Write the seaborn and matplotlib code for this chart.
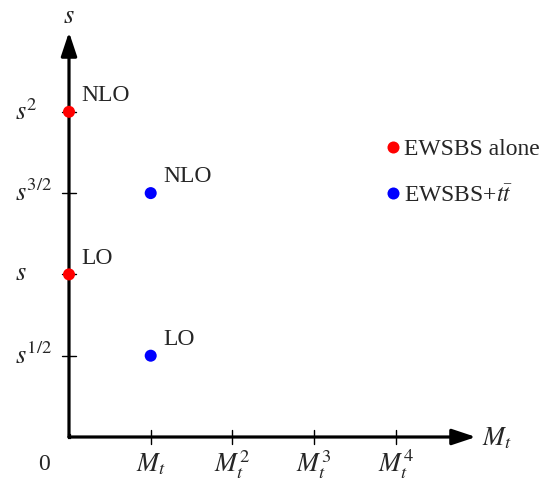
import matplotlib
matplotlib.use("Agg")
import matplotlib.pyplot as plt
import seaborn as sns
import pandas as pd

# Data (axes in units of powers: x = power of M_t, y = power of s^{1/2})
x_ticks = [1, 2, 3, 4]
x_ticklabels = [r"$M_t$", r"$M_t^2$", r"$M_t^3$", r"$M_t^4$"]
y_ticks = [1, 2, 3, 4]
y_ticklabels = [r"$s^{1/2}$", r"$s$", r"$s^{3/2}$", r"$s^2$"]

series = ["EWSBS alone", "EWSBS alone", r"EWSBS+$t\bar{t}$", r"EWSBS+$t\bar{t}$"]
xs = [0, 0, 1, 1]
ys = [2, 4, 1, 3]
orders = ["LO", "NLO", "LO", "NLO"]

df = pd.DataFrame({"x": xs, "y": ys, "series": series, "order": orders})

sns.set_theme(style="white")
plt.rcParams["font.family"] = ["Liberation Serif", "DejaVu Serif"]
plt.rcParams["mathtext.fontset"] = "stix"

fig = plt.figure(figsize=(5.54, 4.82), dpi=100)
ax = fig.add_axes([0, 0, 1, 1])
ax.set_xlim(-69 / 81.7, (554 - 69) / 81.7)
ax.set_ylim(-45 / 81.3, 437 / 81.3)
ax.axis("off")

fs = 17
mfs = 19
astyle = "-|>,head_length=1.2,head_width=0.4"
ax.annotate("", xy=(4.98, 0), xytext=(0, 0),
            arrowprops=dict(arrowstyle=astyle, lw=2.3, color="black",
                            shrinkA=0, shrinkB=0))
ax.annotate("", xy=(0, 4.98), xytext=(0, 0),
            arrowprops=dict(arrowstyle=astyle, lw=2.3, color="black",
                            shrinkA=0, shrinkB=0))
ax.plot([0, 0], [0, 0.02], color="black", lw=2.3, solid_capstyle="projecting")

tl = 0.08
for t, lab in zip(x_ticks, x_ticklabels):
    ax.plot([t, t], [-tl, tl], color="black", lw=1)
    ax.text(t, -0.34, lab, ha="center", va="center", fontsize=mfs)
for t, lab in zip(y_ticks, y_ticklabels):
    ax.plot([-tl, tl], [t, t], color="black", lw=1)
    ax.text(-0.66, t, lab, ha="left", va="center", fontsize=mfs)
ax.text(-0.31, -0.34, "0", ha="center", va="center", fontsize=fs)
ax.text(0, 5.16, r"$s$", ha="center", va="center", fontsize=mfs)
ax.text(5.24, -0.02, r"$M_t$", ha="center", va="center", fontsize=mfs)

palette = {"EWSBS alone": "#ff0000", r"EWSBS+$t\bar{t}$": "#0000ff"}
sns.scatterplot(data=df, x="x", y="y", hue="series", palette=palette, s=75,
                edgecolor="none", ax=ax, zorder=5, clip_on=False)

for xv, yv, o in zip(xs, ys, orders):
    ax.text(xv + 0.15, yv + 0.2, o, ha="left", va="center", fontsize=fs)

leg = ax.legend(loc="center left", bbox_to_anchor=(0.69, 0.642), frameon=False,
                fontsize=fs, handlelength=0.9, handletextpad=0.0, labelspacing=1.05,
                borderpad=0, borderaxespad=0, markerscale=1.0)

fig.savefig("out.png", dpi=100)
